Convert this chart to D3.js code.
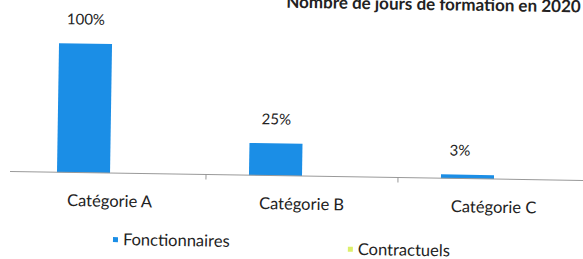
<!DOCTYPE html>
<html><head><meta charset="utf-8">
<script src="https://cdn.jsdelivr.net/npm/d3@7"></script>
<style>body{margin:0;background:#fff;} svg{display:block;}</style>
</head><body>
<svg id="c" width="583" height="259"></svg>
<script>
const categories = ["Catégorie A", "Catégorie B", "Catégorie C"];
const series = ["Fonctionnaires", "Contractuels"];
const fonctionnaires = [100, 25, 3];
const contractuels = [0, 0, 0];
const valueLabels = ["100%", "25%", "3%"];
const title = "Nombre de jours de formation en 2020";
const colors = ["#1b8ee6", "#dcef6a"];

const svg = d3.select("#c");
const font = "Lato, 'Open Sans', sans-serif";
const root = svg.append("g").attr("transform", "rotate(0.9,300,176)");

const x = d3.scaleBand().domain(categories).range([14, 590]).paddingInner(0);
const xs = d3.scaleBand().domain(series).range([0, x.bandwidth()]).paddingInner(0).paddingOuter(0.81);
const y = d3.scaleLinear().domain([0, 100]).range([176, 47]);

const data = categories.map((c, i) => ({cat: c, vals: [fonctionnaires[i], contractuels[i]], label: valueLabels[i]}));

// title (cut off at top)
root.append("text").attr("x", 578).attr("y", 8).attr("text-anchor", "end")
  .attr("font-family", font).attr("font-weight", "bold").attr("font-size", 17).attr("fill", "#222").text(title);

// bars
const g = root.append("g");
data.forEach(d => {
  d.vals.forEach((v, j) => {
    if (v <= 0) return;
    g.append("rect").attr("x", x(d.cat) + xs(series[j])).attr("width", xs.bandwidth())
      .attr("y", y(v)).attr("height", y(0) - y(v)).attr("fill", colors[j]);
  });
  g.append("text").attr("x", x(d.cat) + xs(series[0]) + xs.bandwidth() / 2 + (d.vals[0] < 10 ? -8 : 0))
    .attr("y", y(d.vals[0]) - 19).attr("text-anchor", "middle")
    .attr("font-family", font).attr("font-size", 15).attr("fill", "#222").text(d.label);
});

// axis
const axis = d3.axisBottom(x).tickSize(0).tickPadding(22);
const ag = root.append("g").attr("transform", `translate(0,${y(0)})`).call(axis);
ag.select(".domain").attr("stroke", "#999").attr("d", "M10,0H600");
ag.selectAll("text").attr("font-family", font).attr("font-size", 16.5).attr("fill", "#222");
// separators between categories
categories.slice(1).forEach(c => {
  ag.append("line").attr("x1", x(c)).attr("x2", x(c)).attr("y1", 0).attr("y2", 5).attr("stroke", "#999");
});

// legend
const legendPos = [[114, 248], [349, 254]];
series.forEach((s, j) => {
  const lg = root.append("g").attr("transform", `translate(${legendPos[j][0]},${legendPos[j][1]})`);
  lg.append("rect").attr("x", 0).attr("y", -8).attr("width", 5).attr("height", 5).attr("fill", colors[j]);
  lg.append("text").attr("x", 10).attr("y", 0).attr("font-family", font).attr("font-size", 16.5)
    .attr("fill", "#222").text(s);
});
</script>
</body></html>
